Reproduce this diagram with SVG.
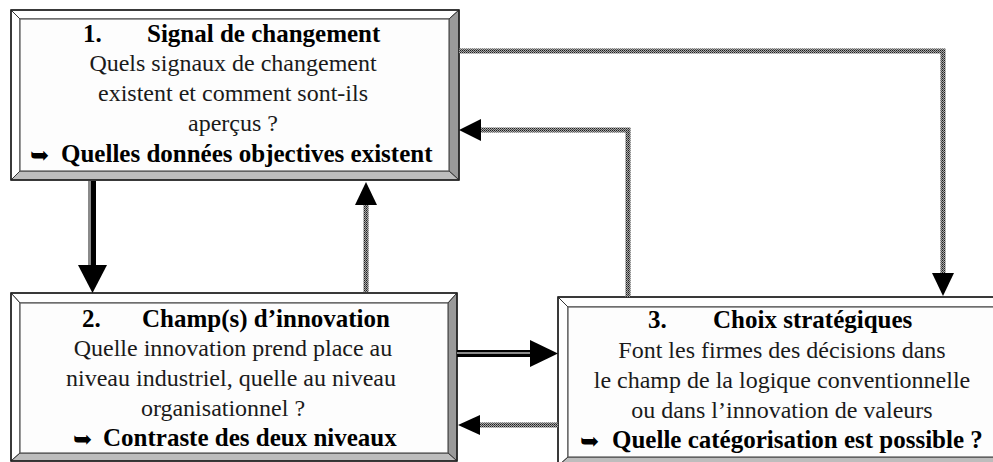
<svg xmlns="http://www.w3.org/2000/svg" width="993" height="462" viewBox="0 0 993 462">
  <defs>
    <!-- fine checkered dot texture used for the dotted connectors -->
    <pattern id="dots" patternUnits="userSpaceOnUse" width="2" height="2">
      <rect width="2" height="2" fill="#a8a8a8"/>
      <rect width="1" height="1" fill="#1e1e1e"/>
      <rect x="1" y="1" width="1" height="1" fill="#4a4a4a"/>
    </pattern>
  </defs>
  <style>
    .face { fill: #fdfdfd; stroke: #555; stroke-width: 1.2; }
    .hi { fill: #ffffff; stroke: #333; stroke-width: 1; }
    .side { fill: #9a9a9a; stroke: #333; stroke-width: 1; }
    .base { fill: #bdbdbd; stroke: #333; stroke-width: 1; }
    .outer { fill: none; stroke: #222; stroke-width: 1.6; }
    text { font-family: "Liberation Serif", "Times New Roman", serif; fill: #1a1a1a; text-anchor: middle; }
    .t { font-size: 25px; font-weight: bold; fill: #000; text-anchor: start; }
    .b { font-size: 25px; font-weight: bold; fill: #000; text-anchor: start; }
    .r { font-size: 24px; }
    .arr { font-family: "DejaVu Sans", sans-serif; font-size: 23px; fill: #000; text-anchor: start; }
    .dot { fill: none; stroke: url(#dots); stroke-width: 5; }
    .head { fill: #000; }
  </style>

  <rect width="993" height="462" fill="#ffffff"/>

  <!-- 1. Signal de changement -->
  <g id="node-signal">
    <polygon class="hi" points="11,10 459,10 449,19 20,19"/>
    <polygon class="hi" points="11,10 20,19 20,171 11,180"/>
    <polygon class="side" points="459,10 459,180 449,171 449,19"/>
    <polygon class="base" points="11,180 20,171 449,171 459,180"/>
    <rect class="face" x="20" y="19" width="429" height="152"/>
    <rect class="outer" x="11" y="10" width="448" height="170"/>
    <text class="t" y="42"><tspan x="83">1.</tspan><tspan x="147">Signal de changement</tspan></text>
    <text class="r" x="233" y="71">Quels signaux de changement</text>
    <text class="r" x="233" y="101">existent et comment sont-ils</text>
    <text class="r" x="233" y="131">aperçus ?</text>
    <text class="arr" x="30" y="163">➥</text>
    <text class="b" x="61" y="162">Quelles données objectives existent</text>
  </g>

  <!-- 2. Champ(s) d'innovation -->
  <g id="node-champ">
    <polygon class="hi" points="11,293 457,293 448,303 20,303"/>
    <polygon class="hi" points="11,293 20,303 20,453 11,461"/>
    <polygon class="side" points="457,293 457,461 448,453 448,303"/>
    <polygon class="base" points="11,461 20,453 448,453 457,461"/>
    <rect class="face" x="20" y="303" width="428" height="150"/>
    <rect class="outer" x="11" y="293" width="446" height="168"/>
    <text class="t" y="327"><tspan x="82">2.</tspan><tspan x="142">Champ(s) d’innovation</tspan></text>
    <text class="r" x="233" y="356">Quelle innovation prend place au</text>
    <text class="r" x="231" y="386">niveau industriel, quelle au niveau</text>
    <text class="r" x="223" y="416">organisationnel ?</text>
    <text class="arr" x="73" y="447">➥</text>
    <text class="b" x="103" y="446">Contraste des deux niveaux</text>
  </g>

  <!-- 3. Choix stratégiques -->
  <g id="node-choix">
    <polygon class="hi" points="558,297 1003,297 993,307 568,307"/>
    <polygon class="hi" points="558,297 568,307 568,457 558,466"/>
    <polygon class="base" points="558,466 568,457 993,457 1003,466"/>
    <rect class="face" x="568" y="307" width="430" height="150"/>
    <rect class="outer" x="558" y="297" width="445" height="169"/>
    <text class="t" y="328"><tspan x="648">3.</tspan><tspan x="713">Choix stratégiques</tspan></text>
    <text class="r" x="782" y="358">Font les firmes des décisions dans</text>
    <text class="r" x="782" y="388">le champ de la logique conventionnelle</text>
    <text class="r" x="782" y="418">ou dans l’innovation de valeurs</text>
    <text class="arr" x="580" y="449">➥</text>
    <text class="b" x="612" y="448">Quelle catégorisation est possible ?</text>
  </g>

  <!-- connectors -->
  <g id="connectors">
    <!-- 1 -> 2 : solid heavy arrow -->
    <rect x="88" y="181" width="3" height="85" fill="#8a8a8a"/>
    <rect x="91" y="181" width="5" height="85" fill="#000"/>
    <polygon class="head" points="78,265 107,265 92.5,293"/>

    <!-- 2 -> 1 : dotted return -->
    <path class="dot" d="M366,292 V204"/>
    <polygon class="head" points="355,205 377,205 366,182"/>

    <!-- 1 -> 3 : dotted over the top -->
    <path class="dot" d="M459,51 H943 V274"/>
    <polygon class="head" points="932,273 954,273 943,296"/>

    <!-- 3 -> 1 : dotted return -->
    <path class="dot" d="M628,297 V130 H480"/>
    <polygon class="head" points="481,119 481,141 459,130"/>

    <!-- 2 -> 3 : solid heavy arrow -->
    <rect x="457" y="350" width="74" height="7" fill="#000"/>
    <rect x="457" y="352" width="74" height="2" fill="#8a8a8a"/>
    <polygon class="head" points="530,340 530,367 558,353.5"/>

    <!-- 3 -> 2 : dotted return -->
    <path class="dot" d="M558,425 H480"/>
    <polygon class="head" points="480,415 480,435 458,425"/>
  </g>
</svg>
